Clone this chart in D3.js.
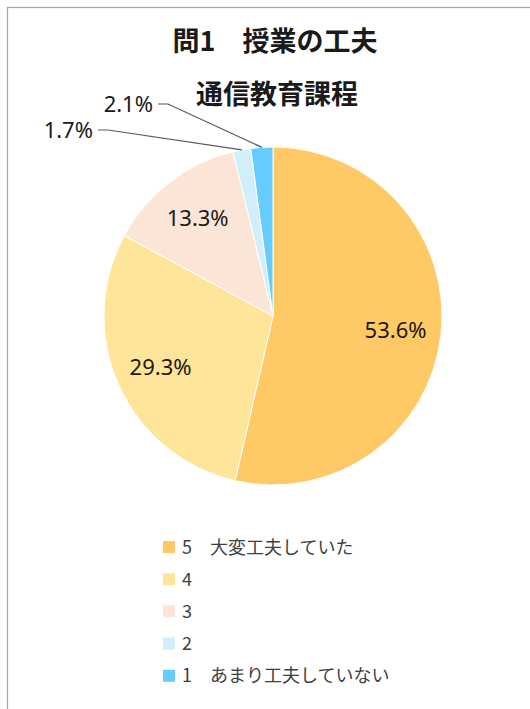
<!DOCTYPE html>
<html>
<head>
<meta charset="utf-8">
<script src="https://cdn.jsdelivr.net/npm/d3@7"></script>
<style>
  body { margin: 0; background: #fff; }
  svg { display: block; }
</style>
</head>
<body>
<div id="chart"></div>
<script>
// data
var categories = ['5\u3000大変工夫していた', '4', '3', '2', '1\u3000あまり工夫していない'];
var values = [53.6, 29.3, 13.3, 1.7, 2.1];
var sliceColors = ['#FFC966', '#FFE599', '#FBE5D6', '#D2EEFB', '#66CCFF'];
var title = '問1\u3000授業の工夫';
var subtitle = '通信教育課程';

var width = 530, height = 709;
var cx = 273, cy = 316, radius = 169;

var svg = d3.select('#chart')
  .append('svg')
    .attr('width', width)
    .attr('height', height);

// chart frame (right and bottom edges fall outside the window)
svg.append('rect')
  .attr('x', 7.5).attr('y', 7.5)
  .attr('width', width + 20).attr('height', height + 20)
  .attr('fill', '#fff')
  .attr('stroke', '#a6a6a6')
  .attr('stroke-width', 1.2);

svg.append('text')
  .attr('x', 275).attr('y', 51)
  .attr('text-anchor', 'middle')
  .attr('font-family', '"Noto Sans CJK JP", sans-serif')
  .attr('font-weight', 'bold')
  .attr('font-size', '27px')
  .attr('fill', '#1a1a1a')
  .text(title);

svg.append('text')
  .attr('x', 277).attr('y', 104)
  .attr('text-anchor', 'middle')
  .attr('font-family', '"Noto Sans CJK JP", sans-serif')
  .attr('font-weight', 'bold')
  .attr('font-size', '27px')
  .attr('fill', '#1a1a1a')
  .text(subtitle);

var pie = d3.pie().sort(null).value(function(d) { return d; });
var arcs = pie(values);

var arc = d3.arc().innerRadius(0).outerRadius(radius);
var labelArc = d3.arc().innerRadius(radius * 0.73).outerRadius(radius * 0.73);

var g = svg.append('g')
  .attr('transform', 'translate(' + cx + ',' + cy + ')');

g.selectAll('path')
  .data(arcs)
  .enter()
  .append('path')
    .attr('d', arc)
    .attr('fill', function(d, i) { return sliceColors[i]; })
    .attr('stroke', '#fff')
    .attr('stroke-width', 1);

var labelFont = '"Noto Sans", sans-serif';

// big slices: label inside
g.selectAll('text.inside')
  .data(arcs.filter(function(d) { return d.value >= 5; }))
  .enter()
  .append('text')
    .attr('class', 'inside')
    .attr('transform', function(d) {
      var c = labelArc.centroid(d);
      return 'translate(' + c[0] + ',' + (c[1] + 8) + ')';
    })
    .attr('text-anchor', 'middle')
    .attr('font-family', labelFont)
    .attr('font-size', '22px')
    .attr('fill', '#1a1a1a')
    .text(function(d) { return d.value.toFixed(1) + '%'; });

// small slices: label outside with leader line
var outsideText = [[-180, -186], [-120, -212]]; // text anchor (right end) per small slice, in order
var small = arcs.filter(function(d) { return d.value < 5; });
small.forEach(function(d, k) {
  var mid = (d.startAngle + d.endAngle) / 2;
  var edge = [radius * Math.sin(mid), -radius * Math.cos(mid)];
  var t = outsideText[k];
  g.append('text')
    .attr('x', t[0]).attr('y', t[1] + 8)
    .attr('text-anchor', 'end')
    .attr('font-family', labelFont)
    .attr('font-size', '22px')
    .attr('fill', '#1a1a1a')
    .text(d.value.toFixed(1) + '%');
  g.append('path')
    .attr('d', d3.line()([[t[0] + 5, t[1]], [t[0] + 15, t[1]], edge]))
    .attr('fill', 'none')
    .attr('stroke', '#595959')
    .attr('stroke-width', 1.2);
});

// legend
var legend = svg.append('g')
  .attr('transform', 'translate(163,547)');

var item = legend.selectAll('g')
  .data(categories)
  .enter()
  .append('g')
    .attr('transform', function(d, i) { return 'translate(0,' + (i * 32.2) + ')'; });

item.append('rect')
  .attr('x', 0).attr('y', -6)
  .attr('width', 12).attr('height', 12)
  .attr('fill', function(d, i) { return sliceColors[i]; });

item.append('text')
  .attr('x', 19).attr('y', 6.5)
  .attr('font-family', '"Noto Sans CJK JP", sans-serif')
  .attr('font-size', '18px')
  .attr('fill', '#404040')
  .text(function(d) { return d; });
</script>
</body>
</html>
